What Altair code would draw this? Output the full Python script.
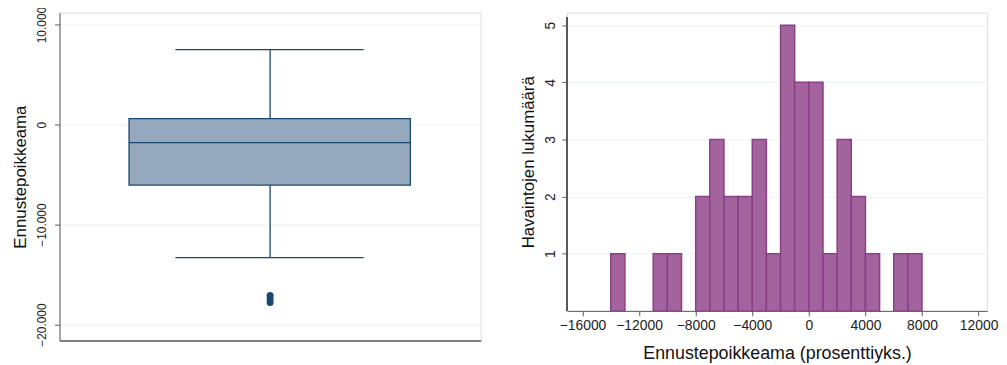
import altair as alt
import pandas as pd

# ---- data: box plot summary (left panel) ----
box_stat_names = ["lower_whisker", "q1", "median", "q3", "upper_whisker"]
box_stat_values = [-13300, -6050, -1800, 600, 7500]
outlier_values = [-17100, -17450, -17800]

# ---- data: histogram (right panel) ----
bin_starts = [-14000, -11000, -10000, -8000, -7000, -6000, -5000, -4000, -3000,
              -2000, -1000, 0, 1000, 2000, 3000, 4000, 6000, 7000]
bin_counts = [1, 1, 1, 2, 3, 2, 2, 3, 1, 5, 4, 4, 1, 3, 2, 1, 1, 1]
bin_width = 1000
x_ticks = [-16000, -12000, -8000, -4000, 0, 4000, 8000, 12000]
y_ticks_left = [-20000, -10000, 0, 10000]
y_ticks_right = [1, 2, 3, 4, 5]

FONT = "Liberation Sans"
NAVY = "#1a476f"
BOXFILL = "#96a8bd"
GRID = "#eaf2f3"
AXIS = "#5a5a5a"

stats = pd.DataFrame([dict(zip(box_stat_names, box_stat_values))])
outl = pd.DataFrame({"v": outlier_values})

yscale_l = alt.Scale(domain=[-21600, 11200], nice=False, zero=False)
xscale_l = alt.Scale(domain=[0, 1], nice=False, zero=False)
y_axis_l = alt.Axis(values=y_ticks_left, title="Ennustepoikkeama", grid=True, gridColor=GRID,
                    labelExpr="replace(format(datum.value, ','), /,/g, '.')",
                    labelAngle=270, labelAlign="center", labelBaseline="bottom",
                    labelFontSize=12, titleFontSize=17, titlePadding=6, labelPadding=6,
                    tickSize=5, domainColor=AXIS, tickColor=AXIS, labelColor="#222",
                    titleFontWeight="normal", titleColor="#111")
x_axis_l = alt.Axis(labels=False, ticks=False, grid=False, title=None,
                    domainColor=AXIS, domainWidth=1.5)

def xd(v):
    return alt.X(datum=v, type="quantitative", scale=xscale_l, axis=x_axis_l)

def yl(field):
    return alt.Y(field, type="quantitative", scale=yscale_l, axis=y_axis_l)

base_l = alt.Chart(stats)
whisk_lo = base_l.mark_rule(color=NAVY, strokeWidth=1.3).encode(
    x=xd(0.5), y=yl("lower_whisker"), y2="q1:Q")
whisk_hi = base_l.mark_rule(color=NAVY, strokeWidth=1.3).encode(
    x=xd(0.5), y=yl("q3"), y2="upper_whisker:Q")
cap_lo = base_l.mark_rule(color=NAVY, strokeWidth=1.3).encode(
    x=xd(0.275), x2=alt.X2(datum=0.722), y=yl("lower_whisker"))
cap_hi = base_l.mark_rule(color=NAVY, strokeWidth=1.3).encode(
    x=xd(0.275), x2=alt.X2(datum=0.722), y=yl("upper_whisker"))
box = base_l.mark_rect(fill=BOXFILL, stroke=NAVY, strokeWidth=1.3).encode(
    x=xd(0.165), x2=alt.X2(datum=0.833), y=yl("q1"), y2="q3:Q")
med = base_l.mark_rule(color=NAVY, strokeWidth=1.3).encode(
    x=xd(0.165), x2=alt.X2(datum=0.833), y=yl("median"))
pts = alt.Chart(outl).mark_circle(color=NAVY, opacity=1, size=50).encode(
    x=xd(0.5), y=yl("v"))

left = alt.layer(whisk_lo, whisk_hi, cap_lo, cap_hi, box, med, pts).properties(
    width=425, height=331)

# ---- right histogram ----
hist = pd.DataFrame({"start": bin_starts, "count": bin_counts})
x_min_r, x_max_r = -17100, 12600
xscale_r = alt.Scale(domain=[x_min_r, x_max_r], nice=False, zero=False)
yscale_r = alt.Scale(domain=[0, 5.22], nice=False, zero=False)

bars = alt.Chart(hist).transform_calculate(
    end=f"datum.start + {bin_width}"
).mark_bar(fill="#a3639d", stroke="#8b3f87", strokeWidth=1.5, opacity=1).encode(
    x=alt.X("start:Q", scale=xscale_r,
            axis=alt.Axis(values=x_ticks, format="d", title="Ennustepoikkeama (prosenttiyks.)",
                          grid=False, labelFontSize=14, titleFontSize=18, tickSize=5,
                          labelPadding=3, titlePadding=12, domainColor=AXIS, tickColor=AXIS,
                          labelColor="#222", titleColor="#111", titleFontWeight="normal",
                          labelFlush=False)),
    x2="end:Q",
    y=alt.Y("count:Q", scale=yscale_r,
            axis=alt.Axis(values=y_ticks_right, format="d", title="Havaintojen lukumäärä",
                          grid=True, gridColor=GRID, labelAngle=270, labelAlign="center",
                          labelBaseline="bottom", labelFontSize=14, titleFontSize=17,
                          tickSize=5, labelPadding=5, titlePadding=6, domain=False,
                          tickColor=AXIS, labelColor="#222", titleColor="#111",
                          titleFontWeight="normal")),
    y2=alt.Y2(datum=0),
)
# left axis line of the histogram, stopping a little above the top tick
yline = alt.Chart(hist).mark_rule(color=AXIS, strokeWidth=1).encode(
    x=alt.X(datum=x_min_r, type="quantitative", scale=xscale_r),
    y=alt.Y(datum=0, type="quantitative", scale=yscale_r),
    y2=alt.Y2(datum=5.14),
)
right = alt.layer(bars, yline).properties(width=424, height=301)

chart = alt.hconcat(left, right, spacing=37).configure_view(stroke=None).configure(
    font=FONT, padding={"left": 3, "top": -4, "right": 0, "bottom": 0}
).configure_axis(labelFont=FONT, titleFont=FONT)

chart.save("out.html", embed_options={"renderer": "svg", "actions": False})
